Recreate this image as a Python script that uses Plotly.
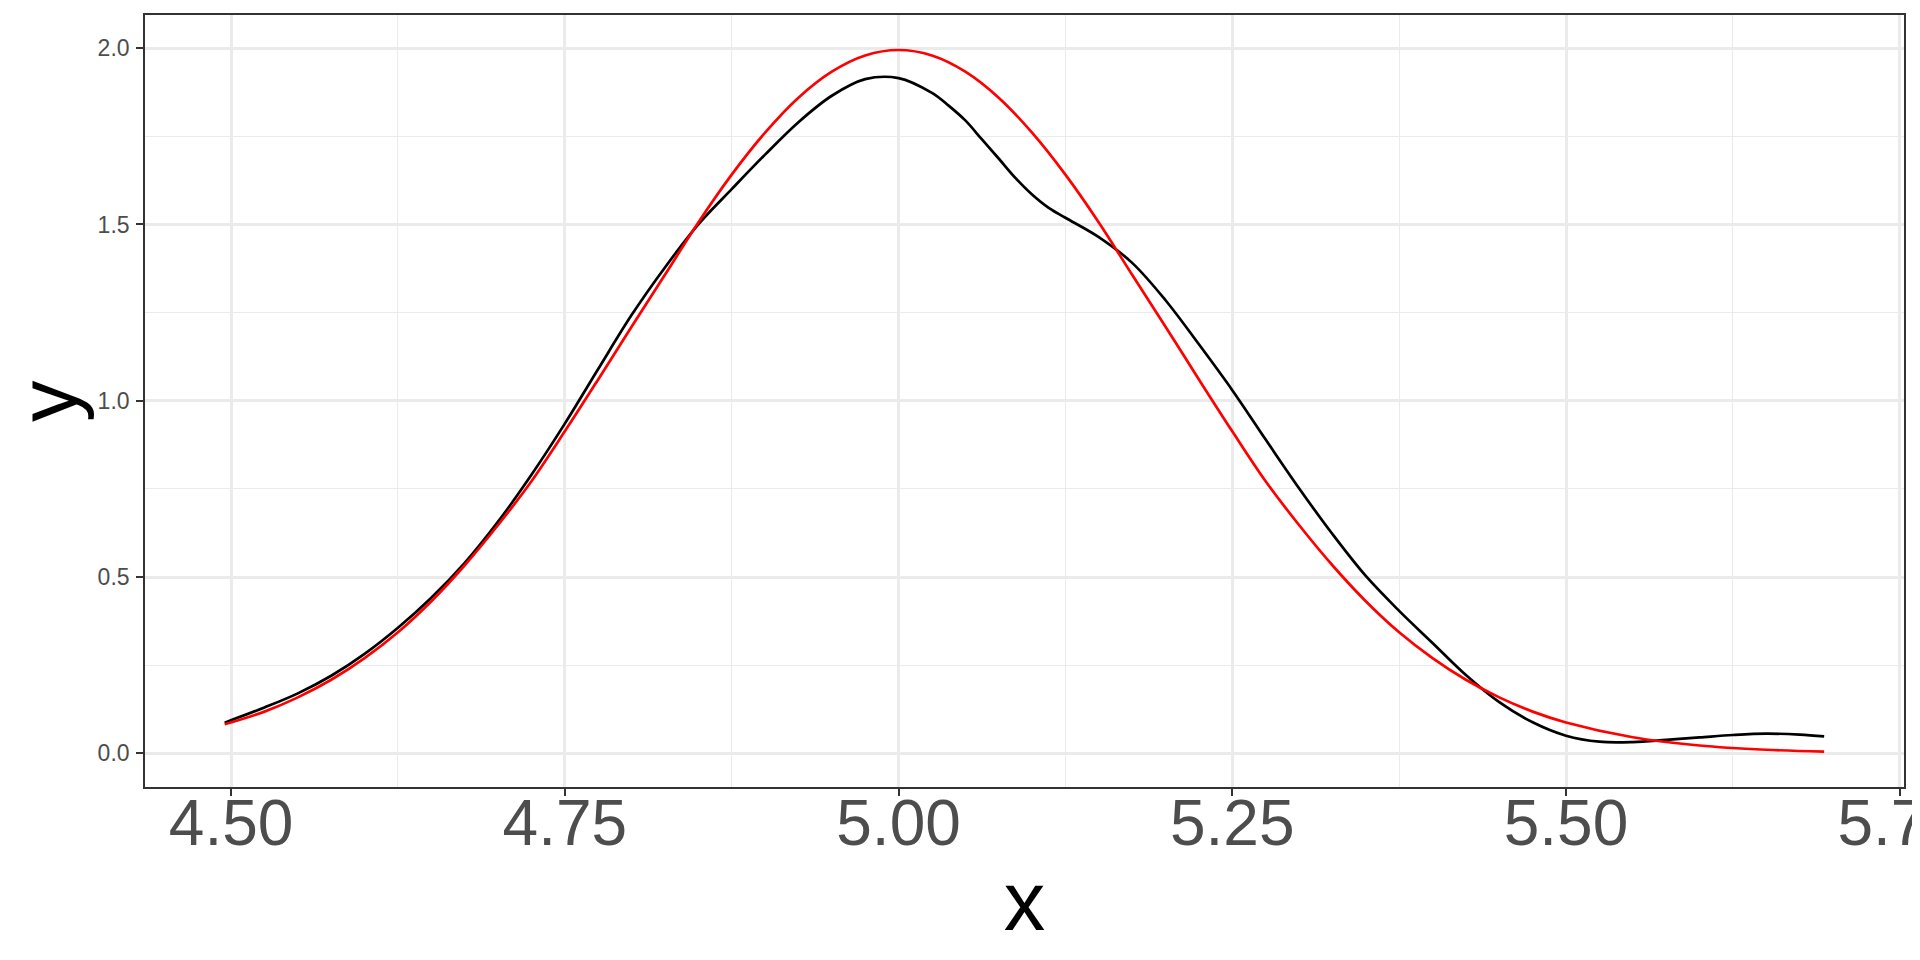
import plotly.graph_objects as go

dens_x = [4.4952, 4.525, 4.55, 4.575, 4.60, 4.625, 4.65, 4.675, 4.70, 4.725, 4.75,
          4.775, 4.80, 4.825, 4.85, 4.875, 4.90, 4.925, 4.95, 4.975, 5.00,
          5.025, 5.0375, 5.05, 5.0625, 5.075, 5.0875, 5.10, 5.1125, 5.125, 5.15, 5.175,
          5.20, 5.225, 5.25, 5.275, 5.30, 5.325, 5.35, 5.375, 5.40, 5.425, 5.45,
          5.475, 5.50, 5.525, 5.55, 5.575, 5.60, 5.625, 5.65, 5.675, 5.6934]
dens_y = [0.087, 0.130, 0.170, 0.220, 0.282, 0.356, 0.441, 0.540, 0.657, 0.790, 0.935,
          1.090, 1.243, 1.378, 1.500, 1.600, 1.698, 1.790, 1.865, 1.912, 1.915,
          1.873, 1.837, 1.795, 1.741, 1.687, 1.632, 1.585, 1.547, 1.519, 1.464, 1.391,
          1.285, 1.160, 1.030, 0.890, 0.752, 0.622, 0.503, 0.404, 0.313, 0.222, 0.145,
          0.088, 0.050, 0.033, 0.032, 0.038, 0.045, 0.052, 0.056, 0.053, 0.048]

# Reference normal curve (red)
norm_x = [4.4952, 4.525, 4.55, 4.575, 4.60, 4.625, 4.65, 4.675, 4.70, 4.725, 4.75,
          4.775, 4.80, 4.825, 4.85, 4.875, 4.90, 4.925, 4.95, 4.975, 5.00,
          5.025, 5.05, 5.075, 5.10, 5.125, 5.15, 5.175, 5.20, 5.225, 5.25,
          5.275, 5.30, 5.325, 5.35, 5.375, 5.40, 5.425, 5.45, 5.475, 5.50,
          5.55, 5.60, 5.65, 5.6934]
norm_y = [0.0823, 0.1183, 0.1587, 0.2086, 0.2700, 0.3433, 0.4314, 0.5334, 0.6476, 0.7716, 0.9132,
          1.0604, 1.2099, 1.3572, 1.5057, 1.6413, 1.7603, 1.8595, 1.9333, 1.9792, 1.9947,
          1.9792, 1.9333, 1.8595, 1.7603, 1.6413, 1.5057, 1.3572, 1.2099, 1.0604, 0.9132,
          0.7716, 0.6476, 0.5334, 0.4314, 0.3433, 0.2700, 0.2086, 0.1587, 0.1183, 0.0876,
          0.0455, 0.0222, 0.0101, 0.0049]

x_ticks = [4.50, 4.75, 5.00, 5.25, 5.50, 5.75]
x_tick_labels = ["4.50", "4.75", "5.00", "5.25", "5.50", "5.75"]
y_ticks = [0.0, 0.5, 1.0, 1.5, 2.0]
y_tick_labels = ["0.0", "0.5", "1.0", "1.5", "2.0"]
x_title = "x"
y_title = "y"

fig = go.Figure()
fig.add_trace(go.Scatter(x=dens_x, y=dens_y, mode="lines",
                         line=dict(color="black", width=2.7, shape="spline", smoothing=1.0),
                         showlegend=False, hoverinfo="skip"))
fig.add_trace(go.Scatter(x=norm_x, y=norm_y, mode="lines",
                         line=dict(color="#FF0000", width=2.7, shape="spline", smoothing=1.0),
                         showlegend=False, hoverinfo="skip"))

grid_major = "#EBEBEB"
fig.update_layout(
    width=1912, height=952,
    margin=dict(l=137, r=16, t=7, b=173),
    paper_bgcolor="white", plot_bgcolor="white",
    font=dict(family="Liberation Sans, Arial, sans-serif", color="#4D4D4D"),
    xaxis=dict(
        range=[4.4355, 5.7532], tickmode="array", tickvals=x_ticks, ticktext=x_tick_labels,
        tickfont=dict(size=64, color="#4D4D4D"), ticks="outside", ticklen=7, tickwidth=2,
        tickcolor="#333333", showgrid=True, gridcolor=grid_major, gridwidth=2.5,
        ticklabelposition="outside", ticklabeloverflow="allow", ticklabelstandoff=-28,
        minor=dict(tickmode="array", tickvals=[4.625, 4.875, 5.125, 5.375, 5.625],
                   showgrid=True, gridcolor=grid_major, gridwidth=1.3, ticks=""),
        showline=True, linecolor="#333333", linewidth=1.6, mirror=True, zeroline=False,
        automargin=False,
        title=dict(text=x_title, font=dict(size=83, color="black"), standoff=14),
    ),
    yaxis=dict(
        range=[-0.0955, 2.094], tickmode="array", tickvals=y_ticks, ticktext=y_tick_labels,
        tickfont=dict(size=23, color="#4D4D4D"), ticks="outside", ticklen=7, tickwidth=2,
        tickcolor="#333333", showgrid=True, gridcolor=grid_major, gridwidth=2.5,
        ticklabelposition="outside", ticklabelstandoff=2,
        minor=dict(tickmode="array", tickvals=[0.25, 0.75, 1.25, 1.75],
                   showgrid=True, gridcolor=grid_major, gridwidth=1.3, ticks=""),
        showline=True, linecolor="#333333", linewidth=1.6, mirror=True, zeroline=False,
        automargin=False,
    ),
    annotations=[dict(text=y_title, xref="paper", yref="paper", x=-0.0551, y=0.5,
                      xanchor="center", yanchor="middle", textangle=-90, showarrow=False,
                      font=dict(size=83, color="black", family="Liberation Sans, Arial, sans-serif"))],
)

fig.write_html("out.html")
